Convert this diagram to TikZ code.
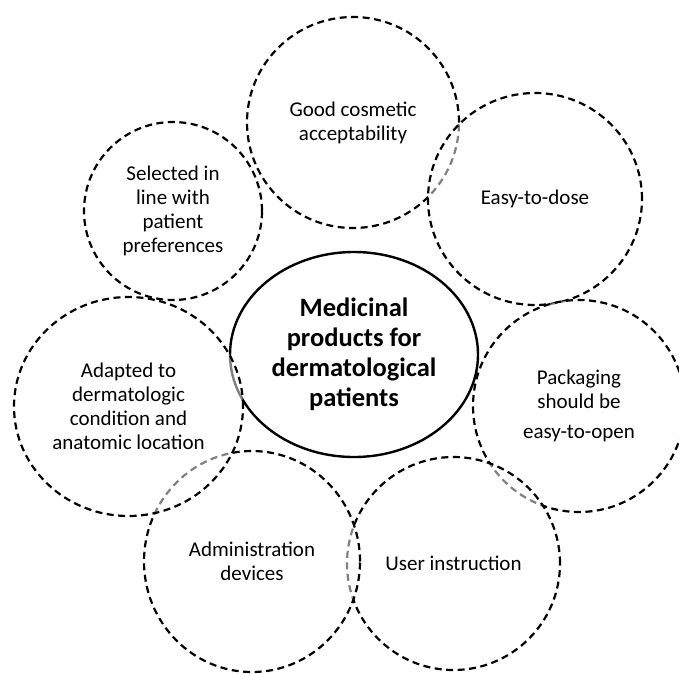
\documentclass[tikz,border=0pt]{standalone}
\usepackage{fontspec}
\setmainfont{Carlito}
\usetikzlibrary{shapes.geometric}
\tikzset{
  bubble/.style={ellipse, draw=black, line width=2.2pt, dash pattern=on 7pt off 4.5pt,
    fill=white, fill opacity=0.5, text opacity=1, align=center, inner sep=0pt,
    font=\fontsize{21}{24}\selectfont},
  hub/.style={ellipse, draw=black, line width=2.4pt, fill=white, align=center, inner sep=0pt,
    font=\fontsize{26.5}{30}\selectfont\bfseries},
}
\begin{document}
\begin{tikzpicture}[x=1pt,y=-1pt]
\useasboundingbox (0,0) rectangle (679,673);
\node[hub, minimum width=248pt, minimum height=205pt] (hub) at (354,354.5) {Medicinal\\products for\\dermatological\\patients};
\node[bubble, minimum width=212pt, minimum height=211pt] (good) at (353,122.5) {Good cosmetic\\acceptability};
\node[bubble, minimum width=214pt, minimum height=212pt] (easy) at (535,199) {Easy-to-dose};
\node[bubble, minimum width=212pt, minimum height=212pt] (pack) at (579,406) {Packaging\\should be\\[6pt]easy-to-open};
\node[bubble, minimum width=213pt, minimum height=213pt] (user) at (453.5,563.5) {User instruction};
\node[bubble, minimum width=216pt, minimum height=221pt] (admin) at (252,561.5) {Administration\\devices};
\node[bubble, minimum width=229pt, minimum height=219pt] (adapt) at (128.5,406.5) {Adapted to\\dermatologic\\condition and\\anatomic location};
\node[bubble, minimum width=178pt, minimum height=178pt] (sel) at (173,211) {Selected in\\line with\\patient\\preferences};
\end{tikzpicture}
\end{document}
